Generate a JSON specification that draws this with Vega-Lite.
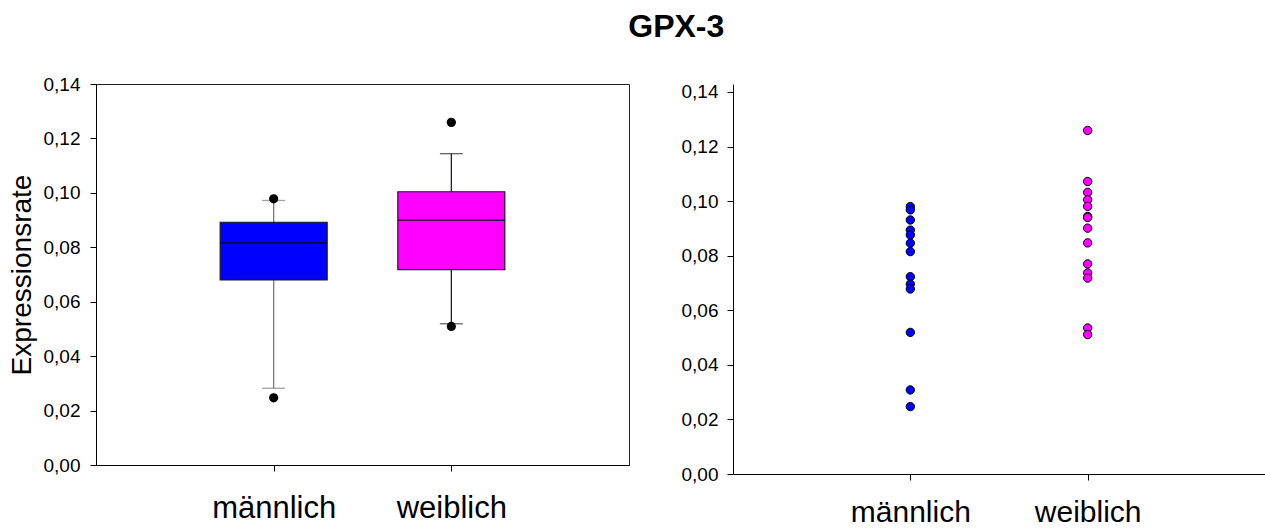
{
  "$schema": "https://vega.github.io/schema/vega-lite/v6.json",
  "padding": {"left": 7, "top": 10, "right": 0, "bottom": 0},
  "background": "white",
  "title": {"text": "GPX-3", "fontSize": 32, "font": "Liberation Sans", "fontWeight": "bold", "color": "black", "anchor": "middle", "dx": 40, "offset": 31},
  "spacing": 51,
  "datasets": {
    "stats": [
      {"group": "männlich", "lower": 0.0282, "q1": 0.068, "median": 0.0817, "q3": 0.0892, "upper": 0.0972},
      {"group": "weiblich", "lower": 0.0519, "q1": 0.0718, "median": 0.0899, "q3": 0.1004, "upper": 0.1144}
    ],
    "outliers": [
      {"group": "männlich", "value": 0.0978},
      {"group": "männlich", "value": 0.0247},
      {"group": "weiblich", "value": 0.1259},
      {"group": "weiblich", "value": 0.0509}
    ],
    "points": [
      {"group": "männlich", "value": 0.098},
      {"group": "männlich", "value": 0.0968},
      {"group": "männlich", "value": 0.0931},
      {"group": "männlich", "value": 0.0894},
      {"group": "männlich", "value": 0.0876},
      {"group": "männlich", "value": 0.0846},
      {"group": "männlich", "value": 0.0815},
      {"group": "männlich", "value": 0.0723},
      {"group": "männlich", "value": 0.0696},
      {"group": "männlich", "value": 0.0678},
      {"group": "männlich", "value": 0.0519},
      {"group": "männlich", "value": 0.0308},
      {"group": "männlich", "value": 0.0247},
      {"group": "weiblich", "value": 0.1259},
      {"group": "weiblich", "value": 0.1072},
      {"group": "weiblich", "value": 0.1032},
      {"group": "weiblich", "value": 0.1005},
      {"group": "weiblich", "value": 0.0981},
      {"group": "weiblich", "value": 0.0944},
      {"group": "weiblich", "value": 0.094},
      {"group": "weiblich", "value": 0.0901},
      {"group": "weiblich", "value": 0.0847},
      {"group": "weiblich", "value": 0.077},
      {"group": "weiblich", "value": 0.0737},
      {"group": "weiblich", "value": 0.0718},
      {"group": "weiblich", "value": 0.0535},
      {"group": "weiblich", "value": 0.0511}
    ]
  },
  "config": {
    "font": "Liberation Sans",
    "view": {"stroke": "#222222", "strokeWidth": 1},
    "axis": {
      "grid": false,
      "labelFont": "Liberation Sans",
      "labelColor": "black",
      "labelFontSize": 19,
      "tickColor": "black",
      "tickSize": 6,
      "domainColor": "black",
      "titleFont": "Liberation Sans",
      "titleColor": "black",
      "titleFontWeight": "normal"
    }
  },
  "hconcat": [
    {
      "width": 533,
      "height": 381,
      "layer": [
        {
          "data": {"name": "stats"},
          "mark": {"type": "rule", "strokeWidth": 1.3},
          "encoding": {
            "x": {"field": "group", "type": "nominal", "scale": {"type": "point", "domain": ["männlich", "weiblich"], "padding": 1}, "axis": {"title": null, "labelAngle": 0, "labelFontSize": 31, "labelPadding": 22}},
            "y": {"field": "lower", "type": "quantitative", "scale": {"domain": [0, 0.14], "nice": false}, "axis": {"title": "Expressionsrate", "titleFontSize": 28, "titlePadding": 7, "values": [0, 0.02, 0.04, 0.06, 0.08, 0.1, 0.12, 0.14], "labelExpr": "replace(format(datum.value, '.2f'), '.', ',')", "labelPadding": 10}},
            "y2": {"field": "upper"},
            "color": {"field": "group", "type": "nominal", "scale": {"domain": ["männlich", "weiblich"], "range": ["#7a7a7a", "#222222"]}, "legend": null}
          }
        },
        {
          "data": {"name": "stats"},
          "mark": {"type": "tick", "size": 23, "thickness": 1.3},
          "encoding": {
            "x": {"field": "group", "type": "nominal"},
            "y": {"field": "lower", "type": "quantitative"},
            "color": {"field": "group", "type": "nominal", "legend": null}
          }
        },
        {
          "data": {"name": "stats"},
          "mark": {"type": "tick", "size": 23, "thickness": 1.3},
          "encoding": {
            "x": {"field": "group", "type": "nominal"},
            "y": {"field": "upper", "type": "quantitative"},
            "color": {"field": "group", "type": "nominal", "legend": null}
          }
        },
        {
          "data": {"name": "stats"},
          "mark": {"type": "bar", "size": 107, "stroke": "#1a1a1a", "strokeWidth": 1.2},
          "encoding": {
            "x": {"field": "group", "type": "nominal"},
            "y": {"field": "q1", "type": "quantitative"},
            "y2": {"field": "q3"},
            "fill": {"field": "group", "type": "nominal", "scale": {"domain": ["männlich", "weiblich"], "range": ["#0000ff", "#ff00ff"]}, "legend": null}
          }
        },
        {
          "data": {"name": "stats"},
          "mark": {"type": "tick", "size": 107, "thickness": 1.5, "color": "#000000"},
          "encoding": {
            "x": {"field": "group", "type": "nominal"},
            "y": {"field": "median", "type": "quantitative"}
          }
        },
        {
          "data": {"name": "outliers"},
          "mark": {"type": "circle", "size": 85, "color": "black", "opacity": 1},
          "encoding": {
            "x": {"field": "group", "type": "nominal"},
            "y": {"field": "value", "type": "quantitative"}
          }
        }
      ]
    },
    {
      "width": 532,
      "height": 390,
      "view": {"stroke": null},
      "layer": [
        {
          "mark": {"type": "rule", "color": "#555555", "strokeWidth": 1.3},
          "encoding": {
            "y": {"datum": 0.14, "type": "quantitative", "scale": {"domain": [0, 0.14293], "nice": false}, "axis": {"title": null, "values": [0, 0.02, 0.04, 0.06, 0.08, 0.1, 0.12, 0.14], "labelExpr": "replace(format(datum.value, '.2f'), '.', ',')", "labelPadding": 9}}
          }
        },
        {
          "data": {"name": "points"},
          "mark": {"type": "circle", "size": 70, "stroke": "black", "strokeWidth": 1, "opacity": 1},
          "encoding": {
            "x": {"field": "group", "type": "nominal", "scale": {"type": "point", "domain": ["männlich", "weiblich"], "padding": 1}, "axis": {"title": null, "labelAngle": 0, "labelFontSize": 30, "labelPadding": 17}},
            "y": {"field": "value", "type": "quantitative"},
            "fill": {"field": "group", "type": "nominal", "scale": {"domain": ["männlich", "weiblich"], "range": ["#0000ff", "#ff00ff"]}, "legend": null}
          }
        }
      ]
    }
  ]
}
